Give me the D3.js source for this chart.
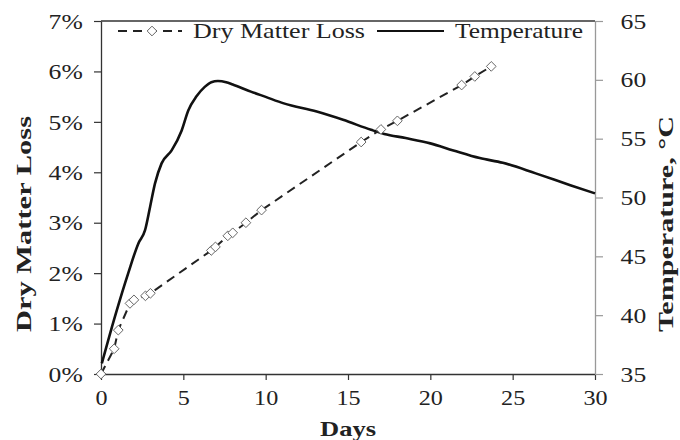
<!DOCTYPE html>
<html>
<head>
  <meta charset="utf-8">
  <script src="https://d3js.org/d3.v7.min.js"></script>
  <style>
    body { margin: 0; background: #fff; }
    text { font-family: "Times New Roman", "Liberation Serif", serif; fill: #222; }
  </style>
</head>
<body>
<div id="chart"></div>
<script>
  // Dry matter loss (markers)
  const dmlDays = [0, 0.8, 1.05, 1.76, 2.0, 2.7, 3.0, 6.7, 6.95, 7.7, 8.0, 8.8, 9.75, 15.8, 17.0, 18.0, 21.9, 22.7, 23.7];
  const dmlPct = [0, 0.5, 0.87, 1.4, 1.47, 1.55, 1.6, 2.45, 2.52, 2.74, 2.8, 3.0, 3.25, 4.6, 4.85, 5.02, 5.73, 5.9, 6.1];

  // Temperature curve
  const tempDays = [0.05, 0.85, 1.66, 2.27, 2.67, 2.98, 3.28, 3.68, 4.29, 4.9, 5.3, 5.8, 6.3, 6.7, 7.1, 7.6, 8.0, 9.1, 10.0, 11.1, 13.1, 14.7, 16.4, 17.2, 18.5, 20.0, 21.4, 23.0, 24.4, 26.4, 28.5, 30];
  const tempC = [35.9, 39.9, 43.6, 46.1, 47.2, 49.2, 51.2, 52.9, 54.0, 55.7, 57.4, 58.6, 59.4, 59.8, 59.9, 59.8, 59.6, 59.0, 58.55, 58.0, 57.3, 56.6, 55.75, 55.4, 55.05, 54.6, 54.0, 53.35, 52.95, 52.05, 51.05, 50.35];

  const leftTicks = [0, 1, 2, 3, 4, 5, 6, 7];
  const rightTicks = [35, 40, 45, 50, 55, 60, 65];
  const xTicks = [0, 5, 10, 15, 20, 25, 30];

  const width = 680, height = 440;
  const margin = { top: 21, right: 85, bottom: 66, left: 101 };
  const w = width - margin.left - margin.right;
  const h = height - margin.top - margin.bottom;

  const svg = d3.select("#chart").append("svg")
    .attr("width", width).attr("height", height);
  const g = svg.append("g").attr("transform", `translate(${margin.left},${margin.top})`);

  const x = d3.scaleLinear().domain([0, 30]).range([0, w]);
  const yL = d3.scaleLinear().domain([0, 7]).range([h, 0]);
  const yR = d3.scaleLinear().domain([35, 65]).range([h, 0]);

  // top border
  g.append("line").attr("x1", 0).attr("x2", w).attr("y1", 0).attr("y2", 0)
    .attr("stroke", "#333").attr("stroke-width", 1.3);

  const ax = g.append("g").attr("transform", `translate(0,${h})`)
    .call(d3.axisBottom(x).tickValues(xTicks).tickSize(6).tickPadding(10).tickSizeOuter(0));
  const al = g.append("g")
    .call(d3.axisLeft(yL).tickValues(leftTicks).tickFormat(d => d + "%").tickSize(7).tickPadding(8).tickSizeOuter(0));
  const ar = g.append("g").attr("transform", `translate(${w},0)`)
    .call(d3.axisRight(yR).tickValues(rightTicks).tickSize(8).tickPadding(13).tickSizeOuter(0));

  [ax, al].forEach(a => {
    a.select(".domain").attr("stroke", "#333").attr("stroke-width", 1.3);
    a.selectAll(".tick line").attr("stroke", "#333").attr("stroke-width", 1.2);
  });
  ar.select(".domain").attr("stroke", "#999").attr("stroke-width", 1.3);
  ar.selectAll(".tick line").attr("stroke", "#999").attr("stroke-width", 1.2);

  [ax, al, ar].forEach(a => a.selectAll(".tick text")
    .attr("font-size", 21).attr("fill", "#222"));
  ax.selectAll(".tick text").attr("transform", "scale(1.15,1)");
  al.selectAll(".tick text").attr("transform", "scale(1.22,1)").attr("dy", "0.34em");
  ar.selectAll(".tick text").attr("transform", "scale(1.22,1)").attr("dy", "0.34em");

  // temperature
  const tempLine = d3.line().x((d, i) => x(tempDays[i])).y(d => yR(d)).curve(d3.curveMonotoneX);
  g.append("path").datum(tempC).attr("d", tempLine)
    .attr("fill", "none").attr("stroke", "#111").attr("stroke-width", 2.6);

  // dry matter loss
  const dmlLine = d3.line().x((d, i) => x(dmlDays[i])).y(d => yL(d));
  g.append("path").datum(dmlPct).attr("d", dmlLine)
    .attr("fill", "none").attr("stroke", "#222").attr("stroke-width", 2)
    .attr("stroke-dasharray", "9,6");

  const diamond = d3.symbol().type(d3.symbolDiamond2).size(60);
  g.selectAll(".mk").data(dmlPct).join("path")
    .attr("d", diamond)
    .attr("transform", (d, i) => `translate(${x(dmlDays[i])},${yL(d)})`)
    .attr("fill", "#fff").attr("stroke", "#666").attr("stroke-width", 1);

  // legend
  const lg = svg.append("g");
  lg.append("line").attr("x1", 118).attr("x2", 182).attr("y1", 31).attr("y2", 31)
    .attr("stroke", "#222").attr("stroke-width", 2).attr("stroke-dasharray", "9,6");
  lg.append("path").attr("d", diamond).attr("transform", "translate(152,31)")
    .attr("fill", "#fff").attr("stroke", "#666").attr("stroke-width", 1);
  lg.append("text").attr("x", 193).attr("y", 38).attr("font-size", 21)
    .attr("textLength", 172).attr("lengthAdjust", "spacingAndGlyphs").text("Dry Matter Loss");
  lg.append("line").attr("x1", 377).attr("x2", 444).attr("y1", 31).attr("y2", 31)
    .attr("stroke", "#111").attr("stroke-width", 2.2);
  lg.append("text").attr("x", 455).attr("y", 38).attr("font-size", 21)
    .attr("textLength", 128).attr("lengthAdjust", "spacingAndGlyphs").text("Temperature");

  // axis titles
  svg.append("text").attr("x", 348).attr("y", 436).attr("text-anchor", "middle")
    .attr("font-size", 21).attr("font-weight", "bold")
    .attr("textLength", 56).attr("lengthAdjust", "spacingAndGlyphs").text("Days");
  svg.append("text").attr("transform", "translate(31,224) rotate(-90)").attr("text-anchor", "middle")
    .attr("font-size", 21).attr("font-weight", "bold")
    .attr("textLength", 216).attr("lengthAdjust", "spacingAndGlyphs").text("Dry Matter Loss");
  svg.append("text").attr("transform", "translate(673,224) rotate(-90)").attr("text-anchor", "middle")
    .attr("font-size", 21).attr("font-weight", "bold")
    .attr("textLength", 216).attr("lengthAdjust", "spacingAndGlyphs").text("Temperature, °C");
</script>
</body>
</html>
